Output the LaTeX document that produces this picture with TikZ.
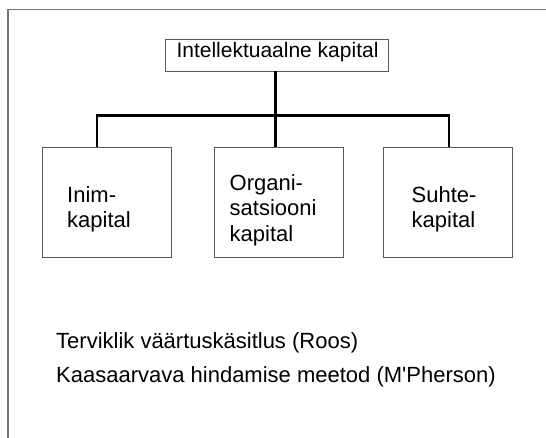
\documentclass[tikz,border=0pt]{standalone}
\usepackage{fontspec}
% straight apostrophe kept as typed
\setmainfont{Liberation Sans}[Ligatures=TeXOff]
\begin{document}
\begin{tikzpicture}[x=1pt,y=-1pt,
  framestyle/.style={draw=black!55,line width=1.4pt},
  box/.style={draw=black!65,line width=0.9pt,inner sep=0pt},
  link/.style={draw=black,line width=2.4pt},
  label/.style={inner sep=0pt,align=left,font=\fontsize{22}{25.8}\selectfont},
  caption/.style={inner sep=0pt,anchor=base west,font=\fontsize{22}{26}\selectfont}]
  \useasboundingbox (0,0) rectangle (546,438);
  % page frame (left and top edges)
  \coordinate (fbl) at (8,438);
  \coordinate (ftl) at (8,9.5);
  \coordinate (ftr) at (546,9.5);
  \draw[framestyle] (fbl) -- (ftl) -- (ftr);
  % root box
  \node[box,minimum width=223pt,minimum height=32pt] (root) at (276.5,55) {};
  \node[inner sep=0pt,anchor=base,font=\fontsize{21}{25}\selectfont] (roottxt) at (277.5,57.5) {Intellektuaalne kapital};
  % three component boxes
  \node[box,minimum width=129pt,minimum height=110pt] (inim) at (106.75,202.5) {};
  \node[box,minimum width=129pt,minimum height=110pt] (org) at (278.5,202.5) {};
  \node[box,minimum width=129pt,minimum height=110pt] (suhe) at (448,202.5) {};
  \node[label,anchor=north west] (inimtxt) at (67,186) {Inim-\\kapital};
  \node[label,anchor=north west] (orgtxt) at (229.5,174) {Organi-\\satsiooni\\kapital};
  \node[label,anchor=north west] (suhetxt) at (411.5,186) {Suhte-\\kapital};
  % tree connectors
  \coordinate (jroot) at (275.5,115.5);
  \coordinate (jl) at (97,115.5);
  \coordinate (jr) at (449,115.5);
  \draw[link] (root.south -| jroot) -- (jroot);
  \draw[link] (jl |- inim.north) -- (jl) -- (jr) -- (jr |- suhe.north);
  \draw[link] (jroot) -- (jroot |- org.north);
  % method captions
  \node[caption] (roos) at (56,348.5) {Terviklik väärtuskäsitlus (Roos)};
  \node[caption] (mph) at (56,382) {Kaasaarvava hindamise meetod (M'Pherson)};
\end{tikzpicture}
\end{document}
